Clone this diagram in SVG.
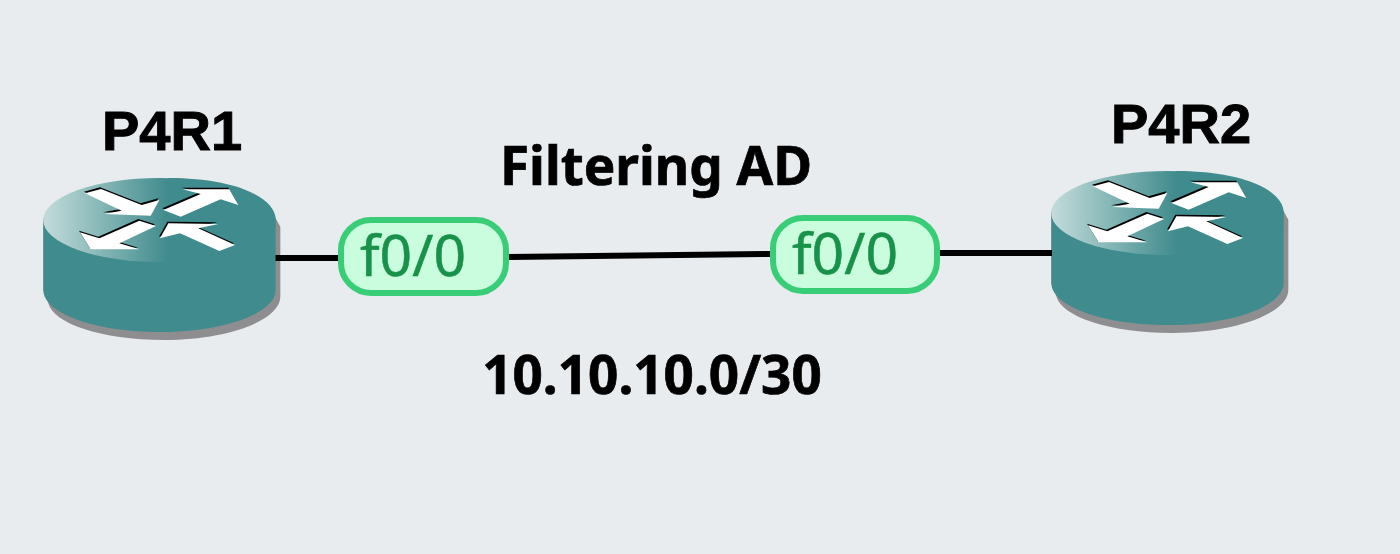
<svg xmlns="http://www.w3.org/2000/svg" width="1400" height="554" viewBox="0 0 1400 554">
<style>
.lbl{font-family:"Liberation Sans",Arial,sans-serif;font-weight:700;font-size:56px;fill:#000;text-anchor:middle;stroke:#000;stroke-width:1px}
.cap{font-family:"Noto Sans",sans-serif;font-weight:700;font-size:53px;fill:#000;text-anchor:middle;stroke:#000;stroke-width:.7px}
.pill{fill:#c9fddd;stroke:#3acd78;stroke-width:6}
.if{font-family:"Noto Sans",sans-serif;font-size:57px;fill:#179248;stroke:#179248;stroke-width:.5px}
.wire{stroke:#000;stroke-width:6;fill:none}
.teal{fill:#408b8d}
.arrow{fill:#fff}
.arrowk{fill:#000}
</style>
<defs>
<linearGradient id="top" gradientUnits="userSpaceOnUse" x1="40" y1="0" x2="415" y2="0">
<stop offset="0" stop-color="#c3dcdb"/>
<stop offset="1" stop-color="#408b8d"/>
</linearGradient>
<g id="router">
<path d="M737 385L751 410V620C751 690 595 750 403 750S70 700 55 640L40 600V385Z" fill="#8e8e90"/>
<path class="teal" d="M40 385V600C40 670 196 726 388 726S737 670 737 600V385Z"/>
<ellipse cx="388" cy="390" rx="348.500" ry="126" fill="url(#top)"/>
<path class="teal" d="M415 264C610 264 737 320 737 390S610 516 415 516Z"/>
<g class="arrowk" transform="translate(-3,-5)">
<polygon points="165,310 213,297 335,345 388,330 362,377 222,372 275,362"/>
<polygon points="400,360 512,312 458,298 598,298 625,345 572,328 452,380"/>
<polygon points="150,427 208,445 328,392 378,408 268,460 328,478 182,478"/>
<polygon points="390,445 415,400 565,402 505,415 615,465 568,483 450,430"/>
</g>
<g class="arrow">
<polygon points="165,310 213,297 335,345 388,330 362,377 222,372 275,362"/>
<polygon points="400,360 512,312 458,298 598,298 625,345 572,328 452,380"/>
<polygon points="150,427 208,445 328,392 378,408 268,460 328,478 182,478"/>
<polygon points="390,445 415,400 565,402 505,415 615,465 568,483 450,430"/>
</g>
</g>
</defs>
<rect width="1400" height="554" fill="#e8ecef"/>
<g id="P4R1">
<use href="#router" transform="translate(30,90) scale(.33333)"/>
<text class="lbl" x="172" y="150">P4R1</text>
</g>
<g id="P4R2">
<use href="#router" transform="translate(1038,83) scale(.33333)"/>
<text class="lbl" x="1181" y="143">P4R2</text>
</g>
<g id="connectors">
<path class="wire" d="M275.500 258H340"/>
<path class="wire" d="M507 257L772 254"/>
<path class="wire" d="M938 253H1052"/>
</g>
<g id="if1">
<rect class="pill" x="341" y="220" width="165" height="73" rx="30"/>
<text class="if" x="360" y="276">f0/0</text>
</g>
<g id="if2">
<rect class="pill" x="773" y="218" width="164" height="73" rx="30"/>
<text class="if" x="792" y="274">f0/0</text>
</g>
<g id="labels">
<text class="cap" x="656" y="185">Filtering AD</text>
<text class="cap" x="652" y="394">10.10.10.0/30</text>
</g>
</svg>
